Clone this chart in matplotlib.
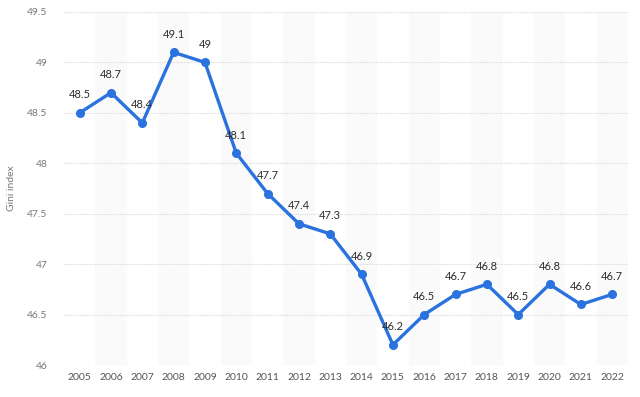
import numpy as np
import matplotlib.pyplot as plt

years = [2005, 2006, 2007, 2008, 2009, 2010, 2011, 2012, 2013, 2014,
         2015, 2016, 2017, 2018, 2019, 2020, 2021, 2022]
gini = [48.5, 48.7, 48.4, 49.1, 49.0, 48.1, 47.7, 47.4, 47.3, 46.9,
        46.2, 46.5, 46.7, 46.8, 46.5, 46.8, 46.6, 46.7]
labels = ["48.5", "48.7", "48.4", "49.1", "49", "48.1", "47.7", "47.4", "47.3", "46.9",
          "46.2", "46.5", "46.7", "46.8", "46.5", "46.8", "46.6", "46.7"]
yticks = [46, 46.5, 47, 47.5, 48, 48.5, 49, 49.5]

plt.rcParams['font.family'] = ['Lato', 'DejaVu Sans']

fig = plt.figure(figsize=(6.4, 3.97), dpi=100)
ax = fig.add_axes([0.1, 0.0806, 0.881, 0.8892])

x = np.arange(len(years))

# alternating column bands
for i in x:
    if i % 2 == 1:
        ax.axvspan(i - 0.5, i + 0.5, color='#fafafa', zorder=0, lw=0)

ax.plot(x, gini, color='#2a72de', lw=2.4, marker='o', ms=5.5, zorder=3,
        solid_joinstyle='round')

for xi, v, t in zip(x, gini, labels):
    ax.annotate(t, (xi, v), xytext=(0, 9), textcoords='offset points',
                ha='center', va='bottom', fontsize=8, color='#2e2e2e', zorder=4)

ax.set_xlim(-0.5, len(years) - 0.5)
ax.set_ylim(46, 49.5)
ax.set_yticks(yticks)
ax.set_yticklabels([f"{t:g}" for t in yticks])
ax.set_xticks(x)
ax.set_xticklabels([str(y) for y in years])
ax.grid(axis='y', color='#d9d9d9', linestyle=(0, (1, 1)), lw=0.8)
ax.set_axisbelow(True)
for s in ax.spines.values():
    s.set_visible(False)
ax.tick_params(length=0, labelsize=7.5)
ax.tick_params(axis='x', colors='#555555', pad=6)
ax.tick_params(axis='y', colors='#777777', pad=12)
ax.set_ylabel("Gini index", fontsize=7.5, color='#777777', labelpad=8)

fig.savefig("out.png", dpi=100)
